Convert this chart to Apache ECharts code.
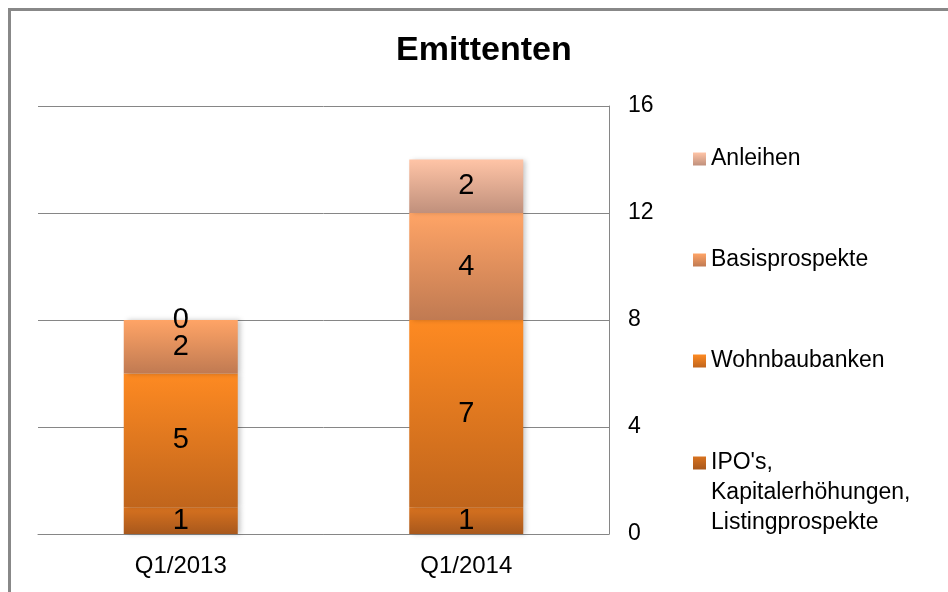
<!DOCTYPE html>
<html>
<head>
<meta charset="utf-8">
<title>Emittenten</title>
<script src="https://cdn.jsdelivr.net/npm/echarts@6/dist/echarts.min.js"></script>
<style>
  html, body { margin: 0; padding: 0; background: #fff; }
  #chart { width: 948px; height: 592px; }
</style>
</head>
<body>
<div id="chart"></div>
<script>
// values
const quarters = ['Q1/2013', 'Q1/2014'];
const ipoValues = [1, 1];
const wohnbauValues = [5, 7];
const basisValues = [2, 4];
const anleihenValues = [0, 2];
const yTicks = { min: 0, max: 16, interval: 4 };

const seriesNames = [
    "IPO's, Kapitalerhöhungen, Listingprospekte",
    'Wohnbaubanken',
    'Basisprospekte',
    'Anleihen'
];

const FONT = '"Liberation Sans", Arial, sans-serif';
const GRID_GREY = '#868686';

// vertical gradient per segment, light on top, darker at the bottom
function grad(top, bottom) {
    return new echarts.graphic.LinearGradient(0, 0, 0, 1, [
        { offset: 0, color: top },
        { offset: 1, color: bottom }
    ]);
}

const fills = [
    grad('#d8721f', '#a8581c'),
    grad('#fe8a22', '#c0651c'),
    grad('#ffa466', '#c07a52'),
    grad('#ffc4a6', '#c0907c')
];

function barSeries(name, values, fill) {
    return {
        name: name,
        type: 'bar',
        stack: 'total',
        barWidth: 114,
        data: values,
        itemStyle: {
            color: fill,
            shadowColor: 'rgba(0,0,0,0.22)',
            shadowBlur: 5,
            shadowOffsetX: 3
        },
        label: {
            show: true,
            position: 'inside',
            color: '#000',
            fontFamily: FONT,
            fontSize: 29
        },
        emphasis: { disabled: true }
    };
}

const legendText = {
    color: '#000',
    fontFamily: FONT,
    fontSize: 23,
    lineHeight: 30
};

// one legend block per entry so each can sit where the reference has it
function legendBlock(name, top, formatter) {
    return {
        data: [name],
        orient: 'vertical',
        left: 693,
        top: top,
        padding: 0,
        itemWidth: 13,
        itemHeight: 13,
        icon: 'rect',
        formatter: formatter || '{name}',
        textStyle: Object.assign({}, legendText, {
            rich: {
                // blank spacer line keeps the icon level with the first text line
                sp: { height: 60, lineHeight: 60, fontSize: 10 },
                t: legendText
            }
        })
    };
}

const chart = echarts.init(document.getElementById('chart'));

chart.setOption({
    animation: false,
    backgroundColor: '#fff',
    title: {
        text: 'Emittenten',
        left: 396,
        top: 34,
        padding: 0,
        textStyle: {
            fontFamily: FONT,
            fontSize: 34,
            fontWeight: 'bold',
            color: '#000'
        }
    },
    graphic: [{
        type: 'rect',
        z: -10,
        shape: { x: 9.5, y: 9.5, width: 1000, height: 1000 },
        style: { fill: 'none', stroke: '#888', lineWidth: 3 }
    }],
    legend: [
        legendBlock(seriesNames[3], 144),
        legendBlock(seriesNames[2], 245),
        legendBlock(seriesNames[1], 346),
        legendBlock(seriesNames[0], 388,
            "{sp| }\n{t|IPO's,}\n{t|Kapitalerhöhungen,}\n{t|Listingprospekte}")
    ],
    grid: {
        left: 38,
        right: 339,
        top: 106,
        bottom: 58,
        containLabel: false
    },
    xAxis: {
        type: 'category',
        data: quarters,
        axisLine: { lineStyle: { color: GRID_GREY, width: 1 } },
        axisTick: { show: false },
        axisLabel: {
            margin: 20,
            color: '#000',
            fontFamily: FONT,
            fontSize: 24
        }
    },
    yAxis: {
        type: 'value',
        position: 'right',
        min: yTicks.min,
        max: yTicks.max,
        interval: yTicks.interval,
        axisLine: { show: true, lineStyle: { color: GRID_GREY, width: 1 } },
        axisTick: { show: false },
        splitLine: { lineStyle: { color: GRID_GREY, width: 1 } },
        axisLabel: {
            margin: 19,
            color: '#000',
            fontFamily: FONT,
            fontSize: 23
        }
    },
    series: [
        barSeries(seriesNames[0], ipoValues, fills[0]),
        barSeries(seriesNames[1], wohnbauValues, fills[1]),
        barSeries(seriesNames[2], basisValues, fills[2]),
        barSeries(seriesNames[3], anleihenValues, fills[3])
    ]
});
</script>
</body>
</html>
